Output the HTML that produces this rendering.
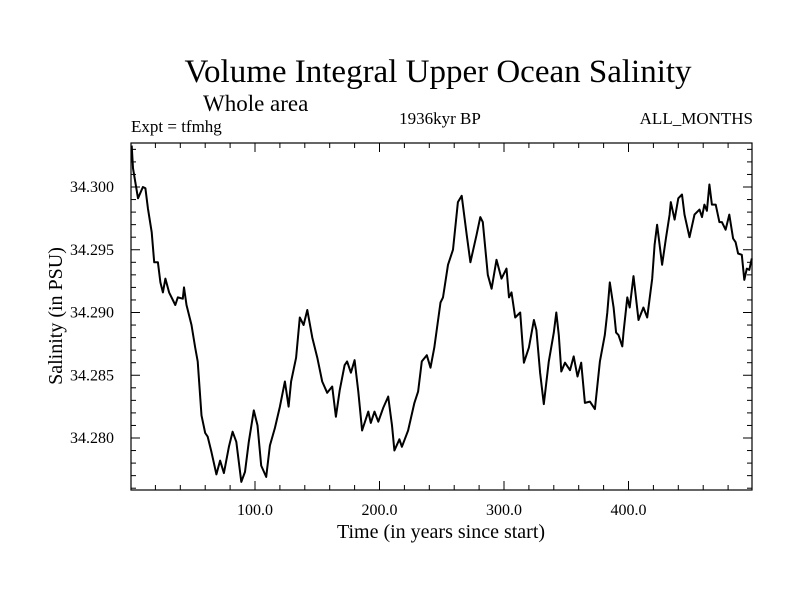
<!DOCTYPE html>
<html><head><meta charset="utf-8"><style>
body{margin:0;background:#fff;}
svg text{font-family:"Liberation Serif",serif;fill:#000;}
</style></head><body>
<svg id="chart" width="800" height="600" xmlns="http://www.w3.org/2000/svg">
<rect width="800" height="600" fill="#fff"/>
<text x="438" y="82" font-size="33" text-anchor="middle">Volume Integral Upper Ocean Salinity</text>
<text x="203" y="111" font-size="23">Whole area</text>
<text x="131" y="132" font-size="17">Expt = tfmhg</text>
<text x="440" y="124" font-size="17" text-anchor="middle">1936kyr BP</text>
<text x="753" y="124" font-size="17" text-anchor="end">ALL_MONTHS</text>
<text transform="translate(62,316) rotate(-90)" font-size="20" text-anchor="middle">Salinity (in PSU)</text>
<text x="441" y="538" font-size="20" text-anchor="middle">Time (in years since start)</text>
<g id="axes"></g>
<path id="line" fill="none" stroke="#000" stroke-width="2" stroke-linejoin="round"/>
<rect x="131" y="143" width="621" height="347" fill="none" stroke="#000" stroke-width="1.2"/>
</svg>
<script>
const years=[1,2,6,10,12,14,17,19,22,24,26,28,31,36,38,42,43,45,49,52,54,57,60,62,65,69,72,75,79,82,85,89,92,95,99,102,105,109,112,116,120,124,127,129,133,136,139,142,146,150,154,158,162,165,168,172,174,177,180,183,186,191,193,196,199,203,207,210,212,216,218,223,228,231,234,238,241,244,249,251,255,259,263,266,270,273,278,281,283,287,290,294,298,302,304,306,309,313,316,320,324,326,329,332,336,340,342,344,346,349,353,356,359,362,365,369,373,377,381,383,385,388,390,392,395,396,399,401,404,408,412,415,419,421,423,427,430,433,434,437,440,443,445,449,453,457,459,461,463,465,467,470,473,475,478,481,484,486,488,491,493,495,497,499];
const salinity=[34.3033,34.3015,34.2991,34.3000,34.2999,34.2983,34.2964,34.2940,34.2940,34.2924,34.2916,34.2927,34.2916,34.2906,34.2912,34.2911,34.2920,34.2906,34.2890,34.2872,34.2861,34.2818,34.2804,34.2801,34.2789,34.2771,34.2782,34.2772,34.2793,34.2805,34.2797,34.2765,34.2773,34.2797,34.2822,34.2810,34.2778,34.2769,34.2794,34.2808,34.2825,34.2845,34.2825,34.2845,34.2864,34.2896,34.2890,34.2902,34.2880,34.2864,34.2845,34.2836,34.2841,34.2817,34.2838,34.2858,34.2861,34.2852,34.2862,34.2837,34.2806,34.2821,34.2812,34.2821,34.2813,34.2824,34.2833,34.2810,34.2790,34.2799,34.2793,34.2806,34.2828,34.2837,34.2861,34.2866,34.2856,34.2872,34.2908,34.2912,34.2938,34.2950,34.2988,34.2993,34.2962,34.2940,34.2962,34.2976,34.2972,34.2930,34.2919,34.2942,34.2927,34.2935,34.2912,34.2916,34.2896,34.2900,34.2860,34.2872,34.2894,34.2886,34.2852,34.2827,34.2861,34.2884,34.2900,34.2882,34.2853,34.2860,34.2854,34.2865,34.2849,34.2860,34.2828,34.2829,34.2823,34.2861,34.2882,34.2900,34.2924,34.2904,34.2884,34.2882,34.2873,34.2884,34.2912,34.2904,34.2929,34.2894,34.2904,34.2896,34.2927,34.2954,34.2970,34.2938,34.2959,34.2978,34.2988,34.2974,34.2991,34.2994,34.2978,34.2960,34.2978,34.2982,34.2976,34.2986,34.2981,34.3002,34.2986,34.2986,34.2972,34.2972,34.2966,34.2978,34.2959,34.2956,34.2947,34.2946,34.2926,34.2935,34.2934,34.2943];
const xTicks=[100,200,300,400];
const xTickLabels=["100.0","200.0","300.0","400.0"];
const yTicks=[34.280,34.285,34.290,34.295,34.300];
const yTickLabels=["34.280","34.285","34.290","34.295","34.300"];
const L=131,R=752,T=143,B=490;
function sx(v){return 130.5+v*1.245;}
function sy(v){return 187-(v-34.300)*12550;}
const ns="http://www.w3.org/2000/svg";
const g=document.getElementById('axes');
function ln(x1,y1,x2,y2,name){const l=document.createElementNS(ns,'line');l.setAttribute('x1',x1);l.setAttribute('y1',y1);l.setAttribute('x2',x2);l.setAttribute('y2',y2);l.setAttribute('stroke','#000');l.setAttribute('stroke-width','1');


g.appendChild(l);}
function tx(x,y,s,anchor,name){const t=document.createElementNS(ns,'text');t.setAttribute('x',x);t.setAttribute('y',y);t.setAttribute('font-size','16');t.setAttribute('text-anchor',anchor);t.textContent=s;


g.appendChild(t);}
for(let v=20;v<500;v+=20){const x=sx(v);const major=v%100===0;const len=major?9:5;ln(x,B,x,B-len,'x-tick');ln(x,T,x,T+len,'x-tick-top');}
xTicks.forEach((v,i)=>tx(sx(v),515,xTickLabels[i],'middle','x-tick-label'));
for(let k=-4;k<=3;k++){}
for(let m=34276;m<=34303;m++){const v=m/1000;const y=sy(v);if(y<T||y>B)continue;const major=m%5===0;const len=major?9:5;ln(L,y,L+len,y,'y-tick');ln(R,y,R-len,y,'y-tick-right');}
yTicks.forEach((v,i)=>tx(114,sy(v)+5,yTickLabels[i],'end','y-tick-label'));
let d='';years.forEach((yr,i)=>{d+=(i?'L':'M')+sx(yr).toFixed(1)+','+sy(salinity[i]).toFixed(1);});
document.getElementById('line').setAttribute('d',d);
</script>
</body></html>
